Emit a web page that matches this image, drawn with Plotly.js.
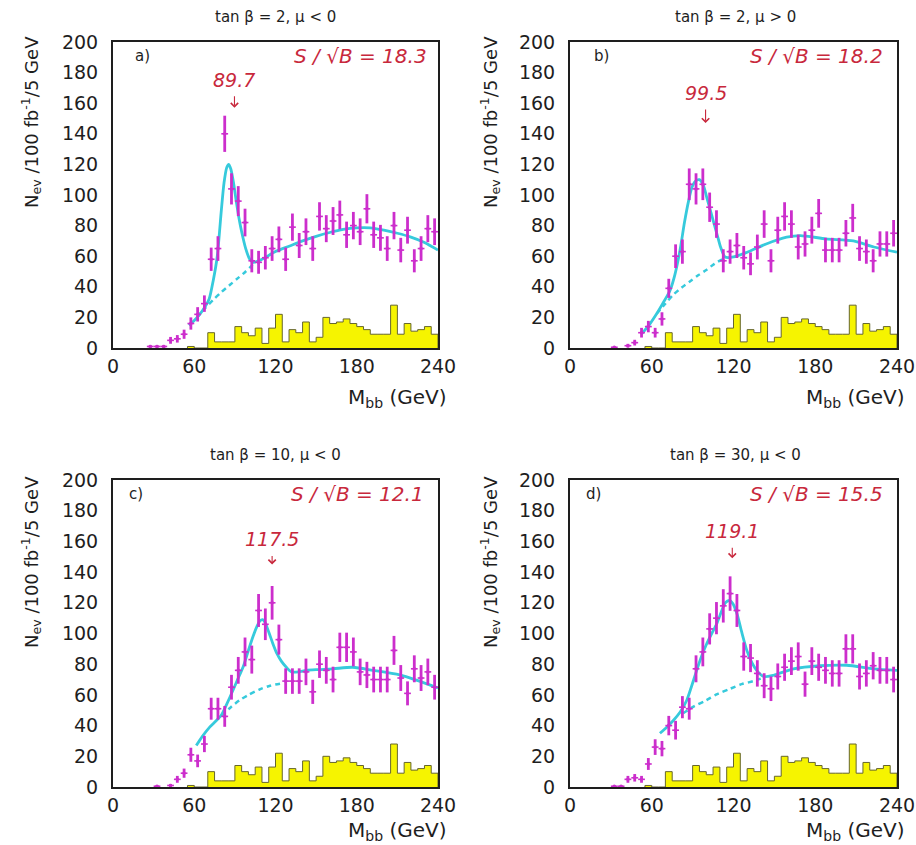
<!DOCTYPE html>
<html>
<head>
<meta charset="utf-8">
<script src="https://cdn.plot.ly/plotly-3.0.1.min.js"></script>
<style>
  html, body { margin: 0; padding: 0; background: #ffffff; }
  #chart { width: 916px; height: 845px; }
</style>
</head>
<body>
<div id="chart"></div>
<script>
// ---------- data ----------
const xTicks = [0, 60, 120, 180, 240];
const yTicks = [0, 20, 40, 60, 80, 100, 120, 140, 160, 180, 200];

const panelTitles = ['tan β = 2, μ < 0', 'tan β = 2, μ > 0', 'tan β = 10, μ < 0', 'tan β = 30, μ < 0'];
const panelTags = ['a)', 'b)', 'c)', 'd)'];
const significance = [18.3, 18.2, 12.1, 15.5];
const peakMass = [89.7, 99.5, 117.5, 119.1];

// yellow histogram (identical in every panel): lower bin edges (GeV) and contents
const histEdges = [55, 60, 65, 70, 75, 80, 85, 90, 95, 100, 105, 110, 115, 120, 125, 130, 135, 140, 145, 150,
                   155, 160, 165, 170, 175, 180, 185, 190, 195, 200, 205, 210, 215, 220, 225, 230, 235];
const histCounts = [1, 0, 0, 10, 4, 4, 4, 14, 10, 8, 13, 3, 13, 22, 4, 12, 10, 17, 4, 7,
                    20, 16, 17, 19, 16, 14, 12, 9, 9, 9, 28, 9, 16, 11, 12, 14, 9];

// panel a) tan beta = 2, mu < 0
const massA = [27.5, 32.5, 37.5, 42.5, 47.5, 52.5, 57.5, 62.5, 67.5, 72.5, 77.5, 82.5, 87.5, 92.5, 97.5,
               102.5, 107.5, 112.5, 117.5, 122.5, 127.5, 132.5, 137.5, 142.5, 147.5, 152.5, 157.5, 162.5,
               167.5, 172.5, 177.5, 182.5, 187.5, 192.5, 197.5, 202.5, 207.5, 212.5, 217.5, 222.5, 227.5,
               232.5, 237.5];
const countsA = [1, 1, 1, 5, 6, 9, 16, 22, 29, 58, 65, 140, 104, 96, 82,
                 57, 56, 59, 65, 71, 58, 79, 67, 76, 65, 86, 78, 83,
                 87, 74, 80, 76, 91, 74, 72, 65, 80, 64, 77, 57, 65,
                 78, 76];
const fitXA = [56, 60, 64, 68, 71, 74, 77, 80, 82, 84, 85.5, 87, 89, 91, 93, 95, 98, 101, 104, 110,
               120, 130, 140, 150, 160, 170, 180, 190, 200, 210, 220, 230, 240];
const fitYA = [15, 18, 22, 27, 32, 44, 60, 90, 108, 118, 120, 117, 108, 96, 85, 76, 65, 58, 56, 58,
               63, 66.5, 70, 73, 75.5, 77.5, 78.5, 78.5, 77, 75, 72.5, 69, 64];
const bkgXA = [62, 68, 74, 80, 86, 92, 98, 105];
const bkgYA = [20, 26, 31.5, 36.5, 41, 45.5, 50, 56];

// panel b) tan beta = 2, mu > 0
const massB = [32.5, 42.5, 47.5, 52.5, 57.5, 62.5, 67.5, 72.5, 77.5, 82.5, 87.5, 92.5, 97.5,
               102.5, 107.5, 112.5, 117.5, 122.5, 127.5, 132.5, 137.5, 142.5, 147.5, 152.5, 157.5, 162.5,
               167.5, 172.5, 177.5, 182.5, 187.5, 192.5, 197.5, 202.5, 207.5, 212.5, 217.5, 222.5, 227.5,
               232.5, 237.5];
const countsB = [0.5, 1.5, 3.5, 10, 14, 10, 19, 39, 60, 63, 107, 104, 107,
                 92, 81, 57, 63, 67, 59, 55, 66, 81, 57, 77, 86, 81,
                 66, 68, 77, 88, 64, 64, 64, 75, 85, 65, 63, 57, 68,
                 68, 75];
const fitXB = [52.6, 58, 63.6, 68, 73.4, 77, 80.7, 84, 87, 89.5, 92, 95, 98, 100.5, 103, 105.5, 108, 110.5,
               113.8, 120, 130, 144, 159, 169, 188, 208, 223, 240];
const fitYB = [9.3, 15, 22.4, 29, 37.6, 48, 63.7, 82, 96, 105, 109, 110, 106, 98, 90, 82, 74, 66,
               59.5, 59.5, 62.6, 68, 72.4, 73.5, 71.3, 70, 66, 62.6];
const bkgXB = [63.6, 70, 76, 82, 88, 94, 100, 106, 113.8];
const bkgYB = [22.4, 29, 35, 39.5, 43.5, 47.5, 51, 55, 59];

// panel c) tan beta = 10, mu < 0
const massC = [32.5, 42.5, 47.5, 52.5, 57.5, 62.5, 67.5, 72.5, 77.5, 82.5, 87.5, 92.5, 97.5,
               102.5, 107.5, 112.5, 117.5, 122.5, 127.5, 132.5, 137.5, 142.5, 147.5, 152.5, 157.5, 162.5,
               167.5, 172.5, 177.5, 182.5, 187.5, 192.5, 197.5, 202.5, 207.5, 212.5, 217.5, 222.5, 227.5,
               232.5, 237.5];
const countsC = [0.5, 1, 5, 9, 21, 17, 28, 51, 51, 46, 65, 76, 88,
                 83, 115, 106, 120, 96, 69, 69, 69, 75, 62, 80, 76, 70,
                 91, 91, 88, 75, 73, 70, 70, 70, 89, 71, 61, 77, 71,
                 75, 65];
const fitXC = [61.5, 66, 71.4, 76, 80, 84, 88.6, 92, 96, 100, 103.4, 106, 108.3, 110.5, 112, 115, 118, 121,
               124.3, 128, 131.7, 137, 142.8, 152, 162.5, 177, 192, 211.7, 224, 240];
const fitYC = [27, 33, 39, 43, 46.7, 54, 63, 70, 78, 89, 98, 104, 108, 109, 107.6, 101, 93.5, 87,
               82, 78, 75, 75, 76, 76.5, 77, 78, 76, 73, 69.6, 64.5];
const bkgXC = [80, 87, 93.5, 100, 108, 116, 125];
const bkgYC = [46.7, 52, 56.5, 60, 63.5, 66, 67.5];

// panel d) tan beta = 30, mu < 0
const massD = [32.5, 37.5, 42.5, 47.5, 52.5, 57.5, 62.5, 67.5, 72.5, 77.5, 82.5, 87.5, 92.5, 97.5,
               102.5, 107.5, 112.5, 117.5, 122.5, 127.5, 132.5, 137.5, 142.5, 147.5, 152.5, 157.5, 162.5,
               167.5, 172.5, 177.5, 182.5, 187.5, 192.5, 197.5, 202.5, 207.5, 212.5, 217.5, 222.5, 227.5,
               232.5, 237.5];
const countsD = [0.5, 0.5, 5, 6, 5, 15, 26, 25, 40, 37, 52, 51, 77, 88,
                 103, 110, 118, 126, 115, 85, 84, 74, 66, 64, 72, 78, 82,
                 85, 67, 82, 78, 76, 74, 74, 90, 90, 72, 74, 79, 76,
                 76, 70];
const fitXD = [66, 71, 76, 81, 85.7, 89, 93, 96.5, 100.4, 104, 107.8, 111, 114, 117, 119.5, 122.5, 126,
               129.8, 133.5, 137, 142, 149.4, 164, 183.7, 203, 223, 240];
const fitYD = [35, 39, 43.5, 49, 56.5, 65, 76, 85, 93.5, 100, 106.5, 114, 120, 121.5, 119.5, 113, 101,
               89, 81, 76, 72, 72.8, 77, 79, 79.3, 77, 76];
const bkgXD = [83, 91, 100, 108, 117.5, 126, 134.7, 140];
const bkgYD = [48, 52.5, 56.5, 60.5, 64, 67, 69, 70.6];

// ---------- styling ----------
const FONT = 'DejaVu Sans, sans-serif';
const INK = '#1e1e1e';
const RED = '#c8283c';
const MAGENTA = '#cc2ecc';
const CYAN = '#36cadc';
const W = 916, H = 845;
const px = v => v / W;          // pixel column -> paper x
const py = v => 1 - v / H;      // pixel row -> paper y

// frame of each panel in pixels, plus where its labels sit
const frames = [
  { l: 113, r: 438, t: 42,  b: 348, titleX: 275, titleY: 17,  yLabX: 31,  yLabY: 122, xLabR: 448, xLabY: 398, tagX: 15, sigX: 233, tipY: 157, textRise: 28 },
  { l: 570, r: 897, t: 42,  b: 348, titleX: 735, titleY: 17,  yLabX: 490, yLabY: 122, xLabR: 906, xLabY: 398, tagX: 16, sigX: 231, tipY: 147, textRise: 30 },
  { l: 113, r: 438, t: 480, b: 787, titleX: 275, titleY: 455, yLabX: 31,  yLabY: 562, xLabR: 448, xLabY: 831, tagX: 10, sigX: 231, tipY: 145, textRise: 25 },
  { l: 570, r: 897, t: 480, b: 787, titleX: 735, titleY: 455, yLabX: 490, yLabY: 562, xLabR: 906, xLabY: 831, tagX: 10, sigX: 231, tipY: 149, textRise: 27 }
];

const series = [
  { mass: massA, counts: countsA, fitX: fitXA, fitY: fitYA, bkgX: bkgXA, bkgY: bkgYA },
  { mass: massB, counts: countsB, fitX: fitXB, fitY: fitYB, bkgX: bkgXB, bkgY: bkgYB },
  { mass: massC, counts: countsC, fitX: fitXC, fitY: fitYC, bkgX: bkgXC, bkgY: bkgYC },
  { mass: massD, counts: countsD, fitX: fitXD, fitY: fitYD, bkgX: bkgXD, bkgY: bkgYD }
];

// step outline of the histogram, closed down to zero at both ends
const binWidth = histEdges[1] - histEdges[0];
const lastEdge = histEdges[histEdges.length - 1] + binWidth;
const histX = [histEdges[0], ...histEdges, lastEdge, lastEdge];
const histY = [0, ...histCounts, histCounts[histCounts.length - 1], 0];

const traces = [];
const layout = {
  width: W, height: H,
  margin: { l: 0, r: 0, t: 0, b: 0 },
  paper_bgcolor: '#ffffff',
  plot_bgcolor: '#ffffff',
  showlegend: false,
  font: { family: FONT, color: INK },
  annotations: []
};

frames.forEach((f, i) => {
  const n = i === 0 ? '' : String(i + 1);
  const xa = 'x' + n, ya = 'y' + n;
  const s = series[i];

  traces.push({
    type: 'scatter', mode: 'lines', x: histX, y: histY, xaxis: xa, yaxis: ya,
    line: { shape: 'hv', color: '#66662e', width: 1 },
    fill: 'tozeroy', fillcolor: '#f6f400', hoverinfo: 'skip'
  });
  traces.push({
    type: 'scatter', mode: 'lines', x: s.bkgX, y: s.bkgY, xaxis: xa, yaxis: ya,
    line: { color: CYAN, width: 2.5, dash: '5px,4px', shape: 'spline', smoothing: 0.8 }
  });
  traces.push({
    type: 'scatter', mode: 'lines', x: s.fitX, y: s.fitY, xaxis: xa, yaxis: ya,
    line: { color: CYAN, width: 2.8, shape: 'spline', smoothing: 0.7 }
  });
  traces.push({
    type: 'scatter', mode: 'markers', x: s.mass, y: s.counts, xaxis: xa, yaxis: ya,
    marker: { color: MAGENTA, size: 3.5 },
    error_y: { type: 'sqrt', color: MAGENTA, thickness: 2.8, width: 0 },
    error_x: { type: 'constant', value: binWidth / 2, color: MAGENTA, thickness: 1.6, width: 0 }
  });

  const axisBase = {
    showgrid: false, zeroline: false, showline: true, mirror: true,
    linecolor: INK, linewidth: 2, ticks: '', fixedrange: true,
    tickfont: { family: FONT, size: 19, color: INK }
  };
  layout['xaxis' + n] = Object.assign({}, axisBase, {
    domain: [px(f.l), px(f.r)], range: [0, 240], tickvals: xTicks, anchor: ya
  });
  layout['yaxis' + n] = Object.assign({}, axisBase, {
    domain: [py(f.b), py(f.t)], range: [0, 200], tickvals: yTicks, anchor: xa,
    ticklabelstandoff: 9
  });

  const ann = layout.annotations;
  // heading above the frame
  ann.push({ xref: 'paper', yref: 'paper', x: px(f.titleX), y: py(f.titleY), xanchor: 'center', yanchor: 'middle',
             text: panelTitles[i], showarrow: false, font: { family: FONT, size: 15, color: INK } });
  // vertical axis label
  ann.push({ xref: 'paper', yref: 'paper', x: px(f.yLabX), y: py(f.yLabY), xanchor: 'center', yanchor: 'middle',
             textangle: -90, text: 'N<sub>ev</sub> /100 fb<sup>-1</sup>/5 GeV', showarrow: false,
             font: { family: FONT, size: 18, color: INK } });
  // horizontal axis label
  ann.push({ xref: 'paper', yref: 'paper', x: px(f.xLabR), y: py(f.xLabY), xanchor: 'right', yanchor: 'middle',
             text: 'M<sub>bb</sub> (GeV)', showarrow: false, borderpad: 0,
             font: { family: FONT, size: 20, color: INK } });
  // panel letter
  ann.push({ xref: xa, yref: ya, x: f.tagX, y: 191, xanchor: 'left', yanchor: 'middle',
             text: panelTags[i], showarrow: false, font: { family: FONT, size: 15, color: INK } });
  // significance
  ann.push({ xref: xa, yref: ya, x: f.sigX, y: 191, xanchor: 'right', yanchor: 'middle',
             text: 'S / √B = ' + significance[i].toFixed(1), showarrow: false,
             font: { family: FONT, size: 20, color: RED, style: 'italic' } });
  // fitted peak position with arrow
  ann.push({ xref: xa, yref: ya, x: peakMass[i], y: f.tipY, ax: 0, ay: -f.textRise,
             text: peakMass[i].toFixed(1), showarrow: true, arrowhead: 4, arrowsize: 1.3, arrowwidth: 1.1,
             arrowcolor: RED, standoff: 0, borderpad: 5,
             font: { family: FONT, size: 19, color: RED, style: 'italic' } });
});

Plotly.newPlot('chart', traces, layout, { displayModeBar: false });
</script>
</body>
</html>
